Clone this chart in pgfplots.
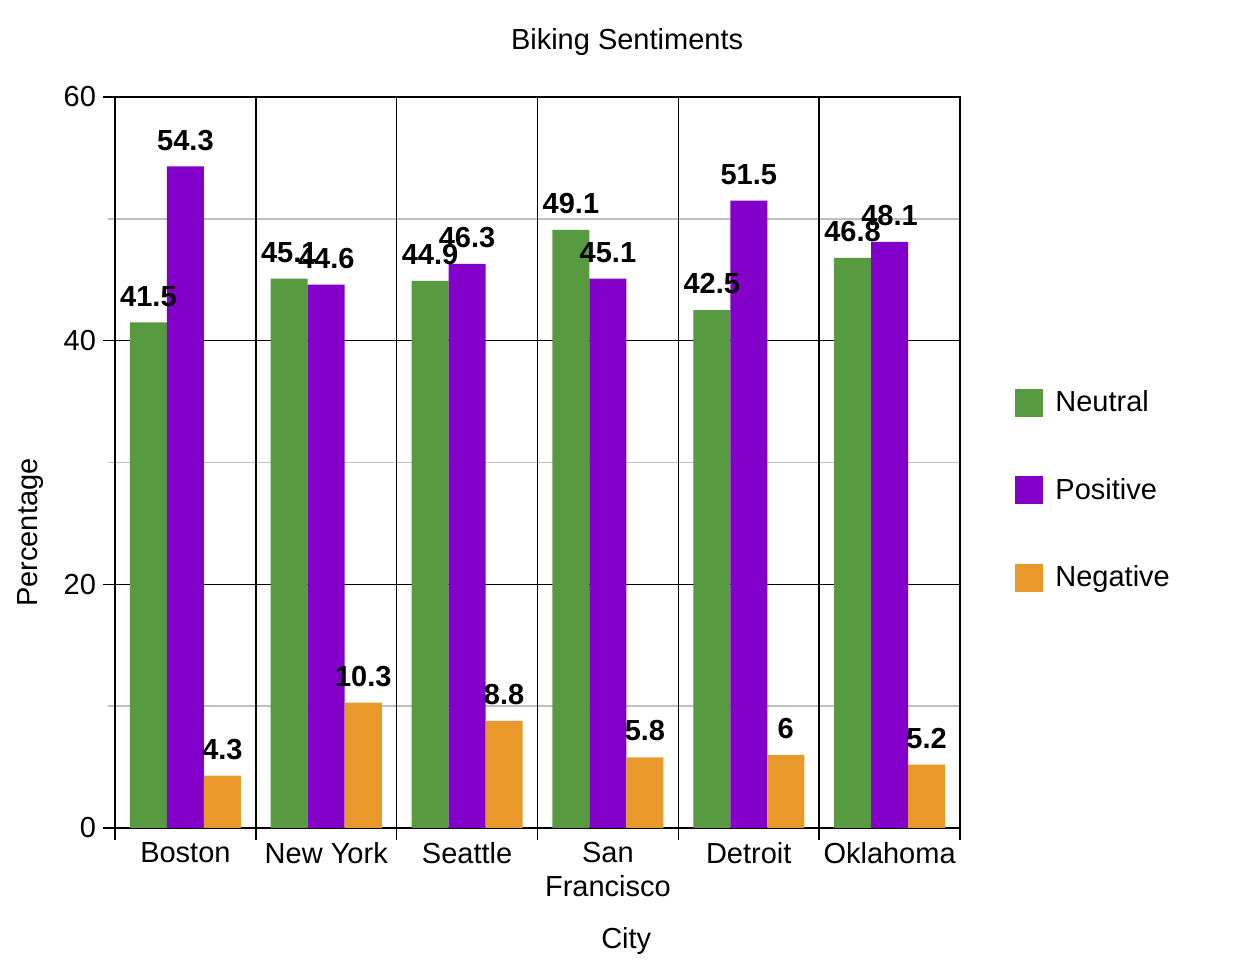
\documentclass[border=0pt]{standalone}
\usepackage{pgfplots}
\pgfplotsset{compat=1.18}
\usepackage{fontspec}
\setmainfont{Liberation Sans}
\definecolor{neu}{HTML}{579A3F}
\definecolor{pos}{HTML}{8200C9}
\definecolor{neg}{HTML}{E8992A}
\newcommand\fs{\fontsize{14.5}{17}\selectfont}
\begin{document}
\begin{tikzpicture}
\useasboundingbox (-57.5pt,-67pt) rectangle (566pt,414pt);
\begin{axis}[
  scale only axis, width=422.5pt, height=365.5pt,
  xmin=-0.5, xmax=5.5, ymin=0, ymax=60,
  /pgf/number format/assume math mode=true,
  ytick={0,20,40,60}, minor y tick num=1,
  ymajorgrids, yminorgrids,
  tick pos=left,
  axis line style={line width=1pt},
  major grid style={black, line width=0.75pt},
  minor grid style={black!25, line width=0.75pt},
  minor tick style={black!25, line width=0.75pt},
  major tick style={black, line width=0.75pt},
  tick align=outside, major tick length=6pt, minor tick length=3.5pt,
  xtick={0,...,5},
  xticklabels={Boston, New York, Seattle, {San\\Francisco}, Detroit, Oklahoma},
  xtick style={draw=none},
  xticklabel style={align=center, font=\fs, yshift=2.5pt},
  yticklabel style={font=\fs},
  extra x ticks={-0.5,0.5,1.5,2.5,3.5,4.5,5.5},
  extra x tick labels={},
  extra x tick style={xmajorgrids=true, xtick style={draw=black}},
  xlabel={City},
  xlabel style={at={(axis description cs:0.605,-0.154)}, anchor=center, font=\fs},
  ylabel={Percentage},
  ylabel style={at={(axis description cs:-0.1,0.404)}, anchor=center, font=\fs},
  ybar=0pt, bar width=18.5pt,
  nodes near coords,
  every node near coord/.append style={font=\fs\bfseries, black, yshift=4.5pt},
  legend style={at={(axis description cs:1.058,0.462)}, anchor=west, draw=none,
    fill=none, row sep=29.75pt, font=\fs, nodes={inner sep=0pt}},
  legend cell align=left,
  legend image code/.code={\fill[#1] (0pt,-7pt) rectangle (14pt,7pt); \path (20pt,0pt);},
  clip=false,
]
\addplot[fill=neu, draw=none] coordinates {(0,41.5) (1,45.1) (2,44.9) (3,49.1) (4,42.5) (5,46.8)};
\addplot[fill=pos, draw=none] coordinates {(0,54.3) (1,44.6) (2,46.3) (3,45.1) (4,51.5) (5,48.1)};
\addplot[fill=neg, draw=none] coordinates {(0,4.3) (1,10.3) (2,8.8) (3,5.8) (4,6) (5,5.2)};
\legend{Neutral, Positive, Negative}
\node[font=\fs] at (rel axis cs:0.606,1.075) {Biking Sentiments};
\end{axis}
\end{tikzpicture}
\end{document}
